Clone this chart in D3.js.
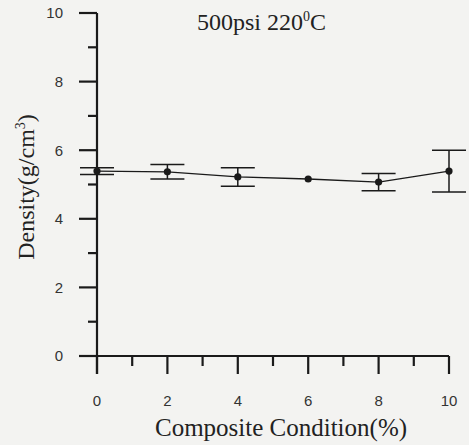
<!DOCTYPE html>
<html>
<head>
<meta charset="utf-8">
<script src="https://cdn.jsdelivr.net/npm/d3@7"></script>
<style>
  html, body { margin: 0; padding: 0; background: #f3f3f1; }
  svg { display: block; }
</style>
</head>
<body>
<svg></svg>
<script>
const width = 469;
const height = 445;

// Data
const conditions = [0, 2, 4, 6, 8, 10];
const densities = [5.39, 5.37, 5.22, 5.16, 5.07, 5.39];
const errors = [0.1, 0.21, 0.27, 0.03, 0.25, 0.61];
const yTicks = [0, 2, 4, 6, 8, 10];
const xTicks = [0, 2, 4, 6, 8, 10];

const svg = d3.select("svg")
  .attr("width", width)
  .attr("height", height);

// Scales
const x = d3.scaleLinear().domain([0, 10]).range([97, 449]);
const y = d3.scaleLinear().domain([0, 10]).range([356, 13]);

const ink = "#1a1a1a";
const serif = "Liberation Serif, Times New Roman, serif";
const sans = "Liberation Sans, Arial, sans-serif";

// Y axis (ticks to the left)
const yAxis = svg.append("g").attr("transform", `translate(${x(0)},0)`);
yAxis.append("line")
  .attr("y1", y(10)).attr("y2", y(0) + 18)
  .attr("stroke", ink).attr("stroke-width", 2.2);
yAxis.selectAll(".major")
  .data(yTicks)
  .join("line")
  .attr("x1", -18).attr("x2", 0)
  .attr("y1", d => y(d)).attr("y2", d => y(d))
  .attr("stroke", ink).attr("stroke-width", 2.2);
yAxis.selectAll(".minor")
  .data(d3.range(1, 10, 2))
  .join("line")
  .attr("x1", -9).attr("x2", 0)
  .attr("y1", d => y(d)).attr("y2", d => y(d))
  .attr("stroke", ink).attr("stroke-width", 2.2);
yAxis.selectAll("text")
  .data(yTicks)
  .join("text")
  .attr("x", -34)
  .attr("y", d => y(d))
  .attr("dy", "0.36em")
  .attr("text-anchor", "end")
  .attr("font-family", sans)
  .attr("font-size", 15)
  .attr("fill", "#333")
  .text(d => d);

// X axis (ticks downward)
const xAxis = svg.append("g").attr("transform", `translate(0,${y(0)})`);
xAxis.append("line")
  .attr("x1", x(0) - 18).attr("x2", x(10))
  .attr("stroke", ink).attr("stroke-width", 2.2);
xAxis.selectAll(".major")
  .data(xTicks)
  .join("line")
  .attr("x1", d => x(d)).attr("x2", d => x(d))
  .attr("y1", 0).attr("y2", 18)
  .attr("stroke", ink).attr("stroke-width", 2.2);
xAxis.selectAll(".minor")
  .data(d3.range(1, 10, 2))
  .join("line")
  .attr("x1", d => x(d)).attr("x2", d => x(d))
  .attr("y1", 0).attr("y2", 10)
  .attr("stroke", ink).attr("stroke-width", 2.2);
xAxis.selectAll("text")
  .data(xTicks)
  .join("text")
  .attr("x", d => x(d))
  .attr("y", 50)
  .attr("text-anchor", "middle")
  .attr("font-family", sans)
  .attr("font-size", 15)
  .attr("fill", "#333")
  .text(d => d);

// Axis titles
svg.append("text")
  .attr("x", 281)
  .attr("y", 436)
  .attr("text-anchor", "middle")
  .attr("font-family", serif)
  .attr("font-size", 25)
  .attr("fill", "#222")
  .text("Composite Condition(%)");

const yTitle = svg.append("text")
  .attr("transform", "translate(34,187) rotate(-90)")
  .attr("text-anchor", "middle")
  .attr("font-family", serif)
  .attr("font-size", 24)
  .attr("fill", "#222");
yTitle.append("tspan").text("Density(g/cm");
yTitle.append("tspan").attr("dy", -9).attr("font-size", 14).text("3");
yTitle.append("tspan").attr("dy", 9).text(")");

// Title
const title = svg.append("text")
  .attr("x", 197)
  .attr("y", 30)
  .attr("font-family", serif)
  .attr("font-size", 24)
  .attr("fill", "#222");
title.append("tspan").text("500psi 220");
title.append("tspan").attr("dy", -9).attr("font-size", 14).text("0");
title.append("tspan").attr("dy", 9).text("C");

// Series
const data = conditions.map((c, i) => ({ c, v: densities[i], e: errors[i] }));

svg.append("path")
  .datum(data)
  .attr("fill", "none")
  .attr("stroke", ink)
  .attr("stroke-width", 1.3)
  .attr("d", d3.line().x(d => x(d.c)).y(d => y(d.v)));

const bars = svg.append("g")
  .selectAll("g")
  .data(data)
  .join("g")
  .attr("stroke", ink)
  .attr("stroke-width", 1.5);
bars.append("line")
  .attr("x1", d => x(d.c)).attr("x2", d => x(d.c))
  .attr("y1", d => y(d.v + d.e)).attr("y2", d => y(d.v - d.e));
bars.filter(d => d.e > 0.05).append("line")
  .attr("x1", d => x(d.c) - 17).attr("x2", d => x(d.c) + 17)
  .attr("y1", d => y(d.v + d.e)).attr("y2", d => y(d.v + d.e));
bars.filter(d => d.e > 0.05).append("line")
  .attr("x1", d => x(d.c) - 17).attr("x2", d => x(d.c) + 17)
  .attr("y1", d => y(d.v - d.e)).attr("y2", d => y(d.v - d.e));

svg.append("g")
  .selectAll("circle")
  .data(data)
  .join("circle")
  .attr("cx", d => x(d.c))
  .attr("cy", d => y(d.v))
  .attr("r", 3.6)
  .attr("fill", ink);
</script>
</body>
</html>
